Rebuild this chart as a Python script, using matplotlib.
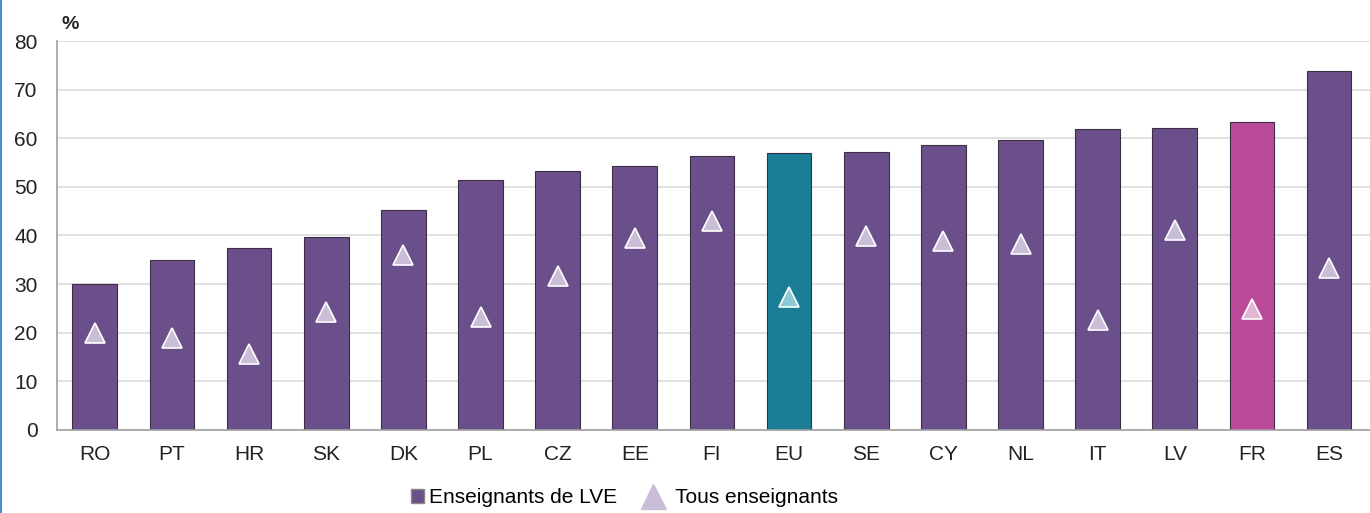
import matplotlib.pyplot as plt
from matplotlib.lines import Line2D
from matplotlib.patches import Patch

plt.rcParams['font.family'] = ['Liberation Sans', 'DejaVu Sans']

countries = ['RO', 'PT', 'HR', 'SK', 'DK', 'PL', 'CZ', 'EE', 'FI', 'EU',
             'SE', 'CY', 'NL', 'IT', 'LV', 'FR', 'ES']
lve = [30.0, 35.0, 37.4, 39.7, 45.3, 51.4, 53.3, 54.3, 56.4, 57.0,
       57.2, 58.6, 59.7, 61.9, 62.1, 63.4, 73.9]
tous = [20.0, 18.9, 15.6, 24.3, 36.0, 23.3, 31.7, 39.5, 43.0, 27.4,
        39.9, 38.9, 38.3, 22.6, 41.2, 24.9, 33.3]

purple = '#6b4f8a'
bar_colors = {'EU': '#1a7f96', 'FR': '#bc4a9b'}
tri_colors = {'EU': '#8ccbd6', 'FR': '#e4b4d4'}
tri_default = '#c9bdd8'

fig = plt.figure(figsize=(13.7, 5.13), dpi=100)
ax = fig.add_axes([0.0416, 0.162, 0.9584, 0.758])

x = list(range(len(countries)))
cols = [bar_colors.get(c, purple) for c in countries]
ax.bar(x, lve, width=0.58, color=cols, edgecolor='#3a2f45', linewidth=0.8, zorder=2)
for xi, c, v in zip(x, countries, tous):
    ax.plot(xi, v, marker='^', markersize=14, color=tri_colors.get(c, tri_default),
            markeredgecolor='white', markeredgewidth=1.2, zorder=3)

ax.set_xlim(-0.49, 16.53)
ax.set_ylim(0, 80)
ax.set_yticks(range(0, 81, 10))
ax.set_xticks(x)
ax.set_xticklabels(countries)
ax.tick_params(axis='both', length=0, labelsize=15, colors='#222222')
ax.tick_params(axis='x', pad=11)
ax.tick_params(axis='y', pad=14)
ax.grid(axis='y', color='#dcdcdc', linewidth=1.2, zorder=0)
ax.set_axisbelow(True)
for s in ['top', 'right']:
    ax.spines[s].set_visible(False)
for s in ['left', 'bottom']:
    ax.spines[s].set_color('#a0a0a0')
    ax.spines[s].set_linewidth(1.2)

fig.text(0.045, 0.943, '%', fontsize=14, fontweight='bold', color='#222222')
fig.add_artist(Line2D([0.0008, 0.0008], [0, 1], color='#4a90d9', linewidth=1.5))

# leading spaces give the triangle the wider gap seen in the original legend
handles = [Patch(facecolor=purple, edgecolor='#888888', label='Enseignants de LVE'),
           Line2D([], [], marker='^', linestyle='none', markersize=18,
                  color=tri_default, label='  Tous enseignants')]
fig.legend(handles=handles, loc='center', bbox_to_anchor=(0.456, 0.03), ncol=2,
           frameon=False, fontsize=15, handlelength=0.6, handletextpad=0.25,
           columnspacing=1.4)

fig.savefig('out.png', dpi=100)
